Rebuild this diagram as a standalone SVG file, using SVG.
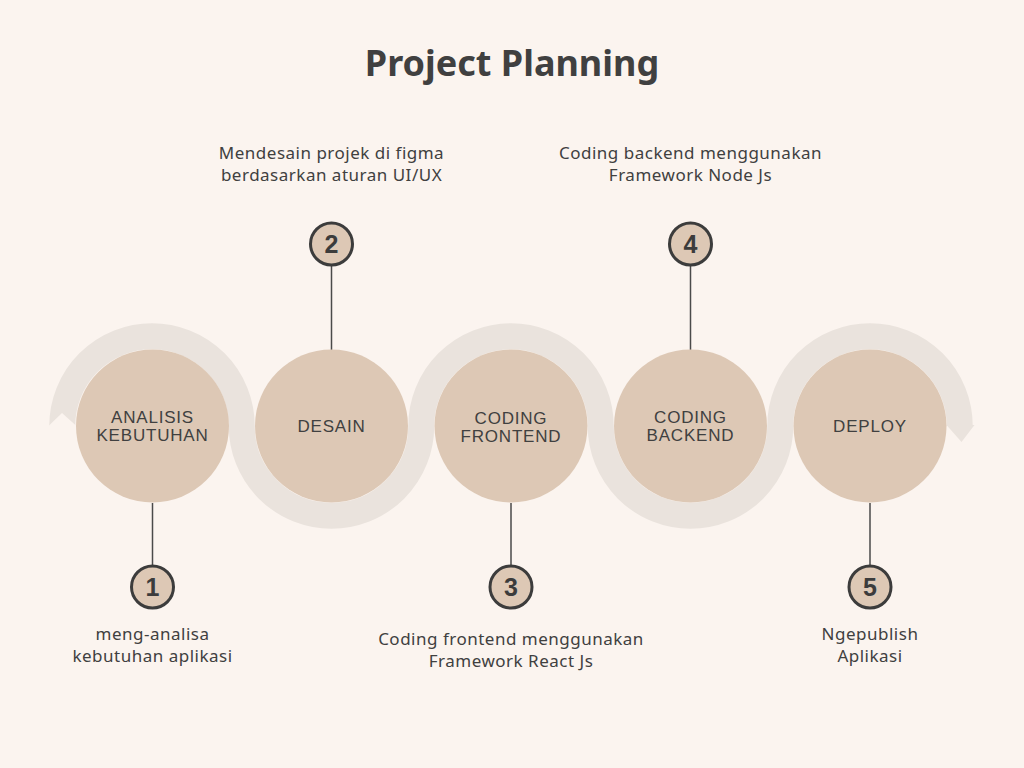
<svg xmlns="http://www.w3.org/2000/svg" width="1024" height="768" viewBox="0 0 1024 768">
<defs>
<style>
.bg{fill:#FBF4EF}
.band{fill:none;stroke:#EAE3DD;stroke-width:26}
.bandf{fill:#EAE3DD}
.node{fill:#DDC8B5}
.lbl{font-family:"Liberation Sans",Arial,sans-serif;font-size:17px;fill:#404040;text-anchor:middle;letter-spacing:0.8px}
.desc{font-family:"Noto Sans","Liberation Sans",Arial,sans-serif;font-size:17px;fill:#404040;text-anchor:middle;letter-spacing:0.5px}
.title{font-family:"Noto Sans","Liberation Sans",Arial,sans-serif;font-size:36px;font-weight:bold;fill:#404040;text-anchor:middle}
.badge{fill:#DDC8B5;stroke:#3C3C3C;stroke-width:3}
.num{font-family:"Liberation Sans",Arial,sans-serif;font-size:25px;font-weight:bold;fill:#3C3C3C;text-anchor:middle}
.conn{stroke:#4A4A4A;stroke-width:1.5;fill:none}
</style>
</defs>
<rect class="bg" x="0" y="0" width="1024" height="768"/>
<text class="title" x="512" y="76">Project Planning</text>

<g id="band">
<path class="band" d="M62.25 426 A89.75 89.75 0 0 1 241.75 426 A89.75 89.75 0 0 0 421.25 426 A89.75 89.75 0 0 1 600.75 426 A89.75 89.75 0 0 0 780.25 426 A89.75 89.75 0 0 1 959.75 426"/>
<polygon class="bg" points="48,426.5 62,413 77,426.5"/>
<polygon class="bandf" points="946.5,425 974.5,425 961.5,442"/>
</g>

<g id="connectors">
<line class="conn" x1="152.5" y1="503" x2="152.5" y2="566"/>
<line class="conn" x1="331.5" y1="265" x2="331.5" y2="350"/>
<line class="conn" x1="511" y1="503" x2="511" y2="566"/>
<line class="conn" x1="690.5" y1="265" x2="690.5" y2="350"/>
<line class="conn" x1="870" y1="503" x2="870" y2="566"/>
</g>

<g id="node1">
<circle class="node" cx="152.5" cy="426" r="76.5"/>
<text class="lbl" x="152.5" y="422.5">ANALISIS</text>
<text class="lbl" x="152.5" y="440.5">KEBUTUHAN</text>
</g>
<g id="node2">
<circle class="node" cx="331.5" cy="426" r="76.5"/>
<text class="lbl" x="331.5" y="431.5">DESAIN</text>
</g>
<g id="node3">
<circle class="node" cx="511" cy="426" r="76.5"/>
<text class="lbl" x="511" y="423.5">CODING</text>
<text class="lbl" x="511" y="441.5">FRONTEND</text>
</g>
<g id="node4">
<circle class="node" cx="690.5" cy="426" r="76.5"/>
<text class="lbl" x="690.5" y="422.5">CODING</text>
<text class="lbl" x="690.5" y="440.5">BACKEND</text>
</g>
<g id="node5">
<circle class="node" cx="870" cy="426" r="76.5"/>
<text class="lbl" x="870" y="431.5">DEPLOY</text>
</g>

<g id="badge1">
<circle class="badge" cx="152.5" cy="587" r="21"/>
<text class="num" x="152.5" y="596">1</text>
</g>
<g id="badge2">
<circle class="badge" cx="331.5" cy="244" r="21"/>
<text class="num" x="331.5" y="253">2</text>
</g>
<g id="badge3">
<circle class="badge" cx="511" cy="587" r="21"/>
<text class="num" x="511" y="596">3</text>
</g>
<g id="badge4">
<circle class="badge" cx="690.5" cy="244" r="21"/>
<text class="num" x="690.5" y="253">4</text>
</g>
<g id="badge5">
<circle class="badge" cx="870" cy="587" r="21"/>
<text class="num" x="870" y="596">5</text>
</g>

<g id="desc1">
<text class="desc" x="152.5" y="640">meng-analisa</text>
<text class="desc" x="152.5" y="662">kebutuhan aplikasi</text>
</g>
<g id="desc2">
<text class="desc" x="331.5" y="159">Mendesain projek di figma</text>
<text class="desc" x="331.5" y="181">berdasarkan aturan UI/UX</text>
</g>
<g id="desc3">
<text class="desc" x="511" y="645">Coding frontend menggunakan</text>
<text class="desc" x="511" y="667">Framework React Js</text>
</g>
<g id="desc4">
<text class="desc" x="690.5" y="159">Coding backend menggunakan</text>
<text class="desc" x="690.5" y="181">Framework Node Js</text>
</g>
<g id="desc5">
<text class="desc" x="870" y="640">Ngepublish</text>
<text class="desc" x="870" y="662">Aplikasi</text>
</g>
</svg>
